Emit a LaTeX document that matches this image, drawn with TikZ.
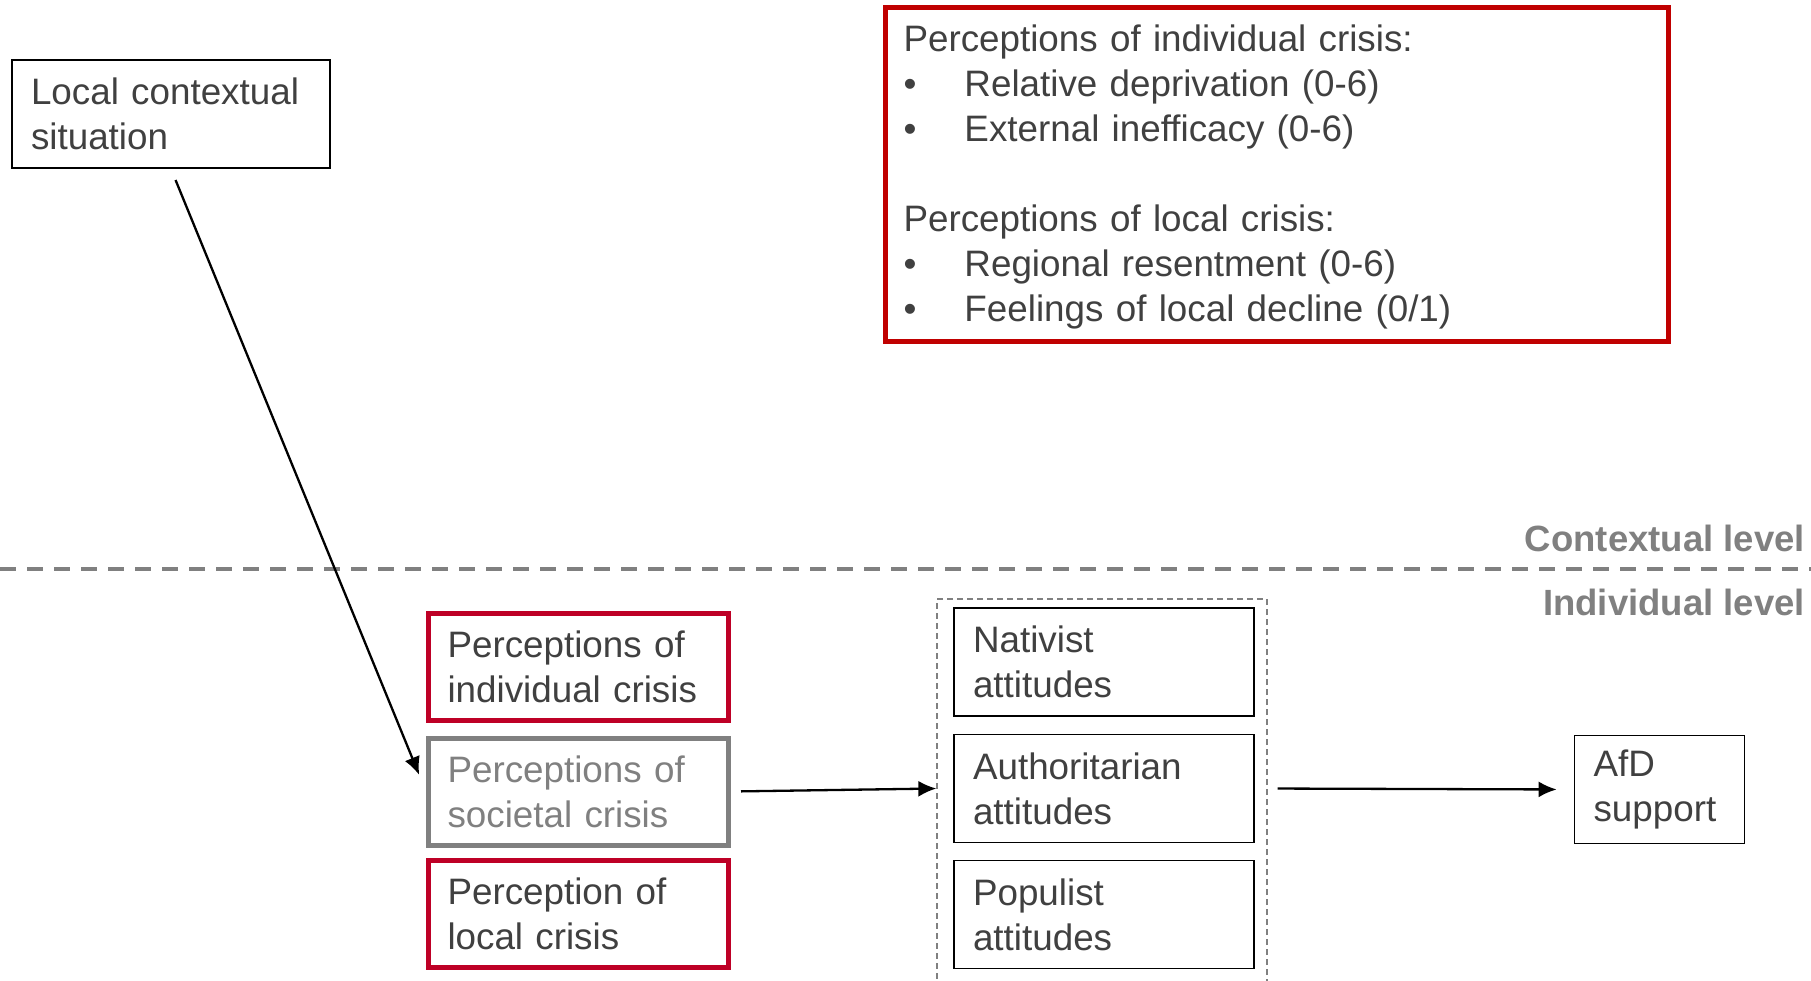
\documentclass[tikz,border=0pt]{standalone}
\usepackage{fontspec}
\setmainfont{Liberation Sans}
\usepackage{tikz}
\usetikzlibrary{arrows.meta}
\definecolor{txtgray}{RGB}{64,64,64}
\definecolor{lvlgray}{RGB}{128,128,128}
\definecolor{listred}{RGB}{192,0,0}
\definecolor{boxred}{RGB}{190,0,38}
\newcommand{\itm}{\makebox[61pt][l]{\textbullet}}

\begin{document}
\begin{tikzpicture}[x=1pt,y=-1pt,
    font=\fontsize{36.8}{45}\selectfont, text=txtgray,
    box/.style={draw=black, line width=1.8pt, align=left, inner xsep=19pt, inner ysep=0pt, minimum height=108pt},
    redbox/.style={box, draw=boxred, line width=5pt, minimum height=107pt, text width=262pt},
    attbox/.style={box, text width=262pt},
    grpbox/.style={draw=lvlgray, line width=1.3pt, dash pattern=on 6pt off 4pt},
    lvl/.style={font=\fontsize{36.5}{44}\selectfont\bfseries, text=lvlgray, inner sep=0pt, anchor=east},
    arr/.style={-{Latex[length=18pt,width=16pt]}, line width=2.3pt}]
  \useasboundingbox (0,0) rectangle (1811,980);

    % contextual level
    \node[box, text width=280pt] (local) at (171,114) {Local contextual\\situation};
    \node[box, draw=listred, line width=5pt, inner xsep=18pt, text width=747pt, minimum height=334pt] (list) at (1277,174) {};
    \node[align=left, inner sep=0pt, text width=747pt] (listtxt) at (1277,177)
        {Perceptions of individual crisis:\\
         \itm Relative deprivation (0-6)\\
         \itm External inefficacy (0-6)\\[45pt]
         Perceptions of local crisis:\\
         \itm Regional resentment (0-6)\\
         \itm Feelings of local decline (0/1)};

    % levels
    \node[lvl] (ctx) at (1805,538) {Contextual level};
    \node[lvl] (ind) at (1805,602) {Individual level};
    \coordinate (sepL) at (0,569);
    \coordinate (sepR) at (1811,569);
    \draw[lvlgray, line width=3.5pt, dash pattern=on 16pt off 11pt] (sepL) -- (sepR);

    % individual level
    \node[redbox] (indiv) at (578.5,667) {Perceptions of\\individual crisis};
    \node[redbox, draw=lvlgray, text=lvlgray] (soc) at (578.5,791.5) {Perceptions of\\societal crisis};
    \node[redbox] (loc) at (578.5,914) {Perception of\\local crisis};

    \node[grpbox, minimum width=330pt, minimum height=396pt] (attgroup) at (1102,797) {};
    \node[attbox] (nat) at (1104,662) {Nativist\\attitudes};
    \node[attbox] (auth) at (1104,788.5) {Authoritarian\\attitudes};
    \node[attbox] (pop) at (1104,914.5) {Populist\\attitudes};

    \node[box, text width=132pt] (afd) at (1659.5,789.5) {AfD\\support};

    % arrows
    \draw[arr, shorten <=12pt, shorten >=18pt] (local.south) -- (soc.west);
    \draw[arr, shorten <=10pt] (soc.east) -- (attgroup.west |- auth.west);
    \draw[arr, shorten <=10pt, shorten >=17pt] (attgroup.east |- auth.east) -- (afd.west);
\end{tikzpicture}
\end{document}
